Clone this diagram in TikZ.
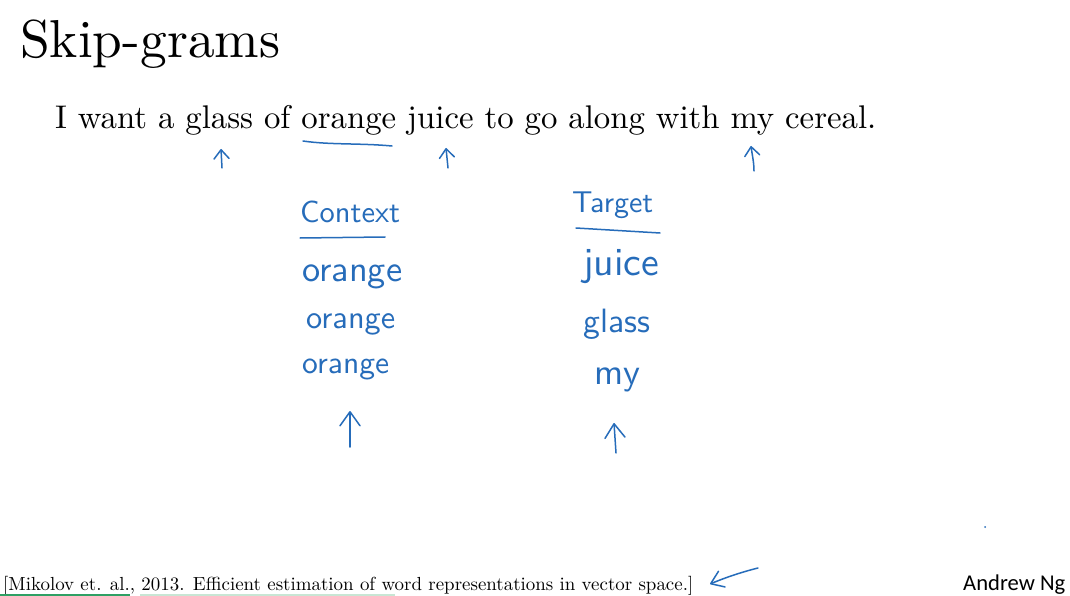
\documentclass[tikz,border=0pt]{standalone}
\usepackage{fontspec}
\usepackage{graphicx}
\newfontfamily\andrewfont{Carlito}
\usetikzlibrary{arrows.meta}
\definecolor{hand}{RGB}{38,108,186}
\definecolor{bargreen}{RGB}{46,160,100}
\definecolor{barlight}{RGB}{200,230,212}
\newcommand\fitw[2]{\resizebox{#1pt}{!}{#2}}
\tikzset{
  hw/.style={inner sep=0pt, anchor=base west, text=hand, font=\sffamily},
  sf/.style={inner sep=0pt, anchor=base west},
  stroke/.style={draw=hand, line width=1.5pt, line cap=round, line join=round},
  smallup/.style={stroke, -{Straight Barb[length=9pt,width=15pt,round]}},
  bigup/.style={stroke, -{Straight Barb[length=14pt,width=20pt,round]}},
}
\begin{document}
\begin{tikzpicture}[x=1pt,y=-1pt]
\useasboundingbox (0,0) rectangle (1070,596);
\fill[white] (0,0) rectangle (1070,596);
% printed text
\node[sf] (title) at (20,58) {\fitw{260}{Skip-grams}};
\node[sf] (sent) at (55,129) {\fitw{821}{I want a glass of orange juice to go along with my cereal.}};
\node[sf] (cite) at (3,590) {\fitw{690}{[Mikolov et. al., 2013. Efficient estimation of word representations in vector space.]}};
\node[sf] (author) at (963,590) {\fitw{102}{\andrewfont Andrew Ng}};
% handwriting on the sentence
\coordinate (ul1) at (303,141);
\coordinate (ul2) at (392,146);
\draw[stroke] (ul1) .. controls (330,145) and (360,143) .. (ul2);
\coordinate (a1s) at (222,168); \coordinate (a1e) at (221,149);
\draw[smallup] (a1s) -- (a1e);
\coordinate (a2s) at (448,168); \coordinate (a2e) at (446,148);
\draw[smallup] (a2s) -- (a2e);
\coordinate (a3s) at (754,171); \coordinate (a3e) at (751,146);
\draw[smallup] (a3s) .. controls (754,162) and (752,154) .. (a3e);
% columns
\node[hw] (context) at (300,222) {\fitw{100}{Context}};
\coordinate (cu1) at (300,238); \coordinate (cu2) at (385,237);
\draw[stroke] (cu1) -- (cu2);
\node[hw] (o1) at (302,281) {\fitw{100}{orange}};
\node[hw] (o2) at (306,328) {\fitw{89}{orange}};
\node[hw] (o3) at (302,373) {\fitw{87}{orange}};
\coordinate (ca1) at (350,447); \coordinate (ca2) at (350,411);
\draw[bigup] (ca1) -- (ca2);
\node[hw] (target) at (572,212) {\fitw{81}{Target}};
\coordinate (tu1) at (576,228); \coordinate (tu2) at (660,233);
\draw[stroke] (tu1) -- (tu2);
\node[hw] (juice) at (583,275) {\fitw{76}{juice}};
\node[hw] (glass) at (583,332) {\fitw{67}{glass}};
\node[hw] (my) at (594,384) {\fitw{46}{my}};
\coordinate (ta1) at (616,453); \coordinate (ta2) at (614,423);
\draw[bigup] (ta1) -- (ta2);
% arrow to citation
\coordinate (ra1) at (758,568); \coordinate (ra2) at (710,584);
\draw[stroke, -{Straight Barb[length=12pt,width=17pt,round]}] (ra1) .. controls (738,573) and (722,579) .. (ra2);
% stray dot
\fill[hand] (985,527) circle (1pt);
% bottom bars
\fill[bargreen] (0,593.5) rectangle (130,596);
\fill[barlight] (140,593.5) rectangle (395,596);
\end{tikzpicture}
\end{document}
